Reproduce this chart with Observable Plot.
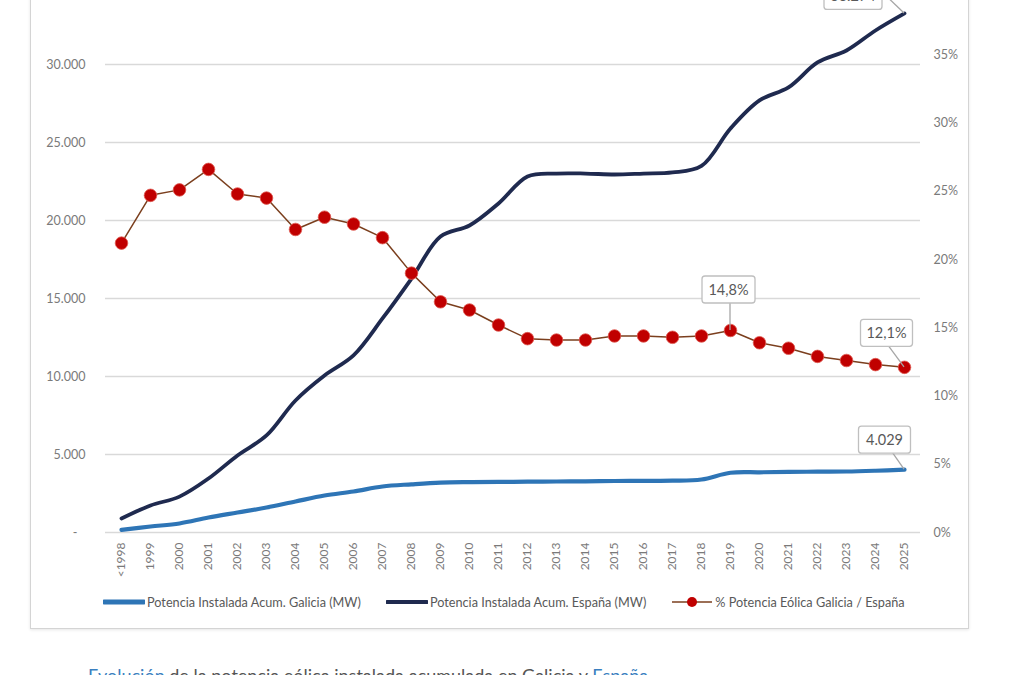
<!DOCTYPE html>
<html><head><meta charset="utf-8">
<script src="https://cdn.jsdelivr.net/npm/d3@7"></script>
<script src="https://cdn.jsdelivr.net/npm/@observablehq/plot@0.6"></script>
<style>
html,body{margin:0;padding:0;background:#fff;overflow:hidden;width:1010px;height:675px;position:relative;}
#card{position:absolute;left:30px;top:-20px;width:937px;height:647px;border:1px solid #d4d4d4;box-shadow:0 1px 3px rgba(0,0,0,0.10);background:#fff;}
#chart{position:absolute;left:0;top:-30px;}
#legend{position:absolute;top:594px;left:103px;display:flex;gap:25px;align-items:center;font:12.7px Lato,"Open Sans",sans-serif;color:#595959;}
#legend .it{display:flex;align-items:center;gap:2px;}
#caption{position:absolute;left:88px;top:666px;font:18px Lato,"Open Sans",sans-serif;color:#555;white-space:nowrap;line-height:1;}
#caption .b{color:#3a7fc0;}
</style></head>
<body>
<div id="card"></div>
<div id="chart"></div>
<div id="legend"></div>
<div id="caption"><span class="b">Evolución</span> de la potencia eólica instalada acumulada en Galicia y <span class="b">España</span></div>
<script>
const years = ["<1998","1999","2000","2001","2002","2003","2004","2005","2006","2007","2008","2009","2010","2011","2012","2013","2014","2015","2016","2017","2018","2019","2020","2021","2022","2023","2024","2025"];
const espana = [900,1730,2300,3460,4940,6220,8460,10060,11350,13720,16280,18970,19680,21090,22820,23010,23010,22950,23010,23080,23500,25900,27700,28530,30130,30900,32180,33274];
const galicia = [170,385,580,960,1280,1600,1990,2370,2630,2950,3090,3200,3230,3240,3260,3270,3280,3300,3310,3320,3400,3830,3860,3880,3900,3910,3960,4029];
const pct = [21.2,24.7,25.1,26.6,24.8,24.5,22.2,23.1,22.6,21.6,19.0,16.9,16.3,15.2,14.2,14.1,14.1,14.4,14.4,14.3,14.4,14.8,13.9,13.5,12.9,12.6,12.3,12.1];
const leftTicks = [0,5000,10000,15000,20000,25000,30000];
const rightTicks = [0,5,10,15,20,25,30,35];
const seriesNames = ["Potencia Instalada Acum. Galicia (MW)","Potencia Instalada Acum. España (MW)","% Potencia Eólica Galicia / España"];
const colors = ["#2e75b6","#1f2a4f","#7b3f1e","#c00000"];

const K = 35000/40; // MW per percentage point (dual axis mapping)
const rows = years.map((y,i)=>({year:y, esp:espana[i], gal:galicia[i], pct:pct[i], pctY:pct[i]*K}));
const fmtMW = d => d3.format(",")(d).replace(/,/g,".");
const fmtPct = d => d3.format(".1f")(d).replace(".",",")+"%";
const last = years.length-1;
const callouts = [
  {year:years[last], y:espana[last], text:fmtMW(espana[last]), dx:-51, dy:-17, w:58, lx:29, ly:-4},
  {year:years[last], y:galicia[last], text:fmtMW(galicia[last]), dx:-19.5, dy:-29.5, w:52, lx:8, ly:13},
  {year:"2019", y:pct[21]*K, text:fmtPct(pct[21]), dx:-1.5, dy:-40.5, w:53, lx:1.5, ly:13},
  {year:years[last], y:pct[last]*K, text:fmtPct(pct[last]), dx:-17.5, dy:-34, w:52, lx:2, ly:13}
];
function calloutMark(items){
  return (index, scales) => {
    const g = d3.create("svg:g");
    for (const a of items){
      const px = scales.x(a.year), py = scales.y(a.y);
      const cx = px + a.dx, cy = py + a.dy, h = 27;
      g.append("line").attr("x1", cx + a.lx).attr("y1", cy + a.ly).attr("x2", px).attr("y2", py)
        .attr("stroke","#a6a6a6").attr("stroke-width",1.3);
      g.append("rect").attr("x", cx - a.w/2).attr("y", cy - h/2).attr("width", a.w).attr("height", h)
        .attr("rx",3).attr("fill","#fff").attr("stroke","#bfbfbf").attr("stroke-width",1.3);
      g.append("text").attr("x", cx).attr("y", cy).attr("dy","0.36em").attr("text-anchor","middle")
        .attr("fill","#595959").attr("font-size",14.5).attr("font-family","Lato,'Open Sans',sans-serif").text(a.text);
    }
    return g.node();
  };
}

const chart = Plot.plot({
  width:1010, height:680,
  marginLeft:105, marginRight:90, marginTop:16, marginBottom:118,
  style:{fontFamily:"Lato,'Open Sans',sans-serif", fontSize:"12.5px", color:"#7a7a7a", background:"transparent", overflow:"visible"},
  x:{type:"point", domain:years, padding:0.5, align:0.5},
  y:{domain:[0,35000]},
  marks:[
    Plot.ruleY(leftTicks, {stroke:"#d9d9d9", strokeWidth:1.4}),
    Plot.axisY(leftTicks.filter(d=>d>0), {anchor:"left", tickSize:0, tickPadding:20, tickFormat:fmtMW, label:null, fontSize:12.5}),
    Plot.axisY([0], {anchor:"left", tickSize:0, tickPadding:28, tickFormat:()=>"-", label:null, fontSize:12.5}),
    Plot.axisY(rightTicks.map(p=>p*K), {anchor:"right", tickSize:0, tickPadding:13, tickFormat:d=>Math.round(d/K)+"%", label:null, fontSize:12.5}),
    Plot.axisX({tickRotate:-90, tickSize:0, tickPadding:10, label:null, fontSize:12}),
    Plot.line(rows,{x:"year", y:"gal", stroke:colors[0], strokeWidth:4.2, curve:"catmull-rom"}),
    Plot.line(rows,{x:"year", y:"esp", stroke:colors[1], strokeWidth:3.8, curve:"catmull-rom"}),
    Plot.line(rows,{x:"year", y:"pctY", stroke:colors[2], strokeWidth:1.5}),
    Plot.dot(rows,{x:"year", y:"pctY", r:6.3, fill:colors[3], stroke:"#e05a52", strokeWidth:0.8}),
    calloutMark(callouts)
  ]
});
document.getElementById("chart").appendChild(chart);

// legend
const leg = d3.select("#legend");
seriesNames.forEach((name,i)=>{
  const it = leg.append("div").attr("class","it");
  const sw = it.append("svg").attr("width",42).attr("height",12);
  if (i<2){
    sw.append("line").attr("x1",1).attr("x2",41).attr("y1",6).attr("y2",6)
      .attr("stroke",colors[i]).attr("stroke-width",i===0?5:4).attr("stroke-linecap","round");
  } else {
    sw.append("line").attr("x1",1).attr("x2",41).attr("y1",6).attr("y2",6).attr("stroke",colors[2]).attr("stroke-width",1.5);
    sw.append("circle").attr("cx",21).attr("cy",6).attr("r",5).attr("fill",colors[3]);
  }
  it.append("span").text(name);
});
</script>
</body></html>
